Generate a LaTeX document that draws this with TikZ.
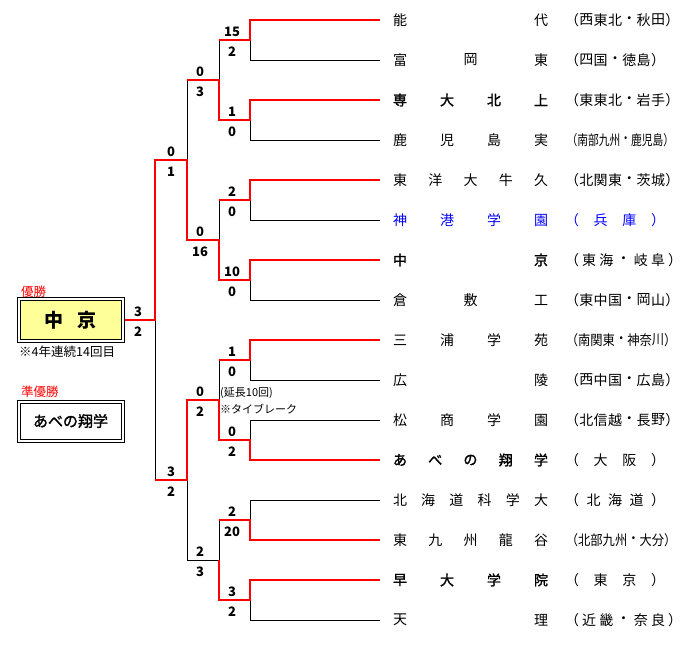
\documentclass[tikz,border=0pt]{standalone}
\usepackage{fontspec}
\setmainfont{Noto Sans CJK JP}
\newfontfamily\cjkb{Noto Sans CJK JP}[FakeBold=1.6]
\begin{document}
\begin{tikzpicture}[x=1pt,y=-1pt,
  blk/.style={black,line width=1pt},
  win/.style={red,line width=2pt,line join=miter},
  sc/.style={font=\fontsize{13}{13}\selectfont\bfseries,inner sep=0pt},
  ch/.style={font=\fontsize{14}{14}\selectfont,inner sep=0pt},
  bd/.style={font=\cjkb\fontsize{14}{14}\selectfont},
  lab/.style={font=\fontsize{12.5}{13}\selectfont,inner sep=0pt,anchor=west}]
\useasboundingbox (0,0) rectangle (694,653);
\newcommand\team[7]{%
  \foreach \c [count=\i] in {#4}{%
    \pgfmathsetmacro\xx{400+(\i-1)*141/(#3-1)}
    \node[ch,#2] (n#1-\i) at (\xx,#1) {\c};}
  \foreach \c [count=\i] in {#6}{%
    \pgfmathsetmacro\xx{572+(\i-1)*86/(#5-1)}
    \pgfmathsetmacro\sx{min(1,86/(#5-1)/14)}
    \node[ch,#7,xscale=\sx] (r#1-\i) at (\xx,#1) {\c};}}
% black skeleton
\foreach \y in {20,60,...,620} \draw[blk] (250,\y) -- (380,\y);
\foreach \a in {20,100,...,580} {
  \draw[blk] (250,\a) -- (250,\a+40);
  \draw[blk] (219,\a+20) -- (250,\a+20);}
\foreach \a in {40,200,360,520} {
  \draw[blk] (219,\a) -- (219,\a+80);
  \draw[blk] (187,\a+40) -- (219,\a+40);}
\foreach \a in {80,400} {
  \draw[blk] (187,\a) -- (187,\a+160);
  \draw[blk] (155,\a+80) -- (187,\a+80);}
\draw[blk] (155,160) -- (155,480);
\draw[blk] (124,320) -- (155,320);
% winners
\draw[win] (380,20)--(250,20)--(250,40)--(219,40);
\draw[win] (380,100)--(250,100)--(250,120)--(219,120)--(219,80)--(187,80);
\draw[win] (380,180)--(250,180)--(250,200)--(219,200);
\draw[win] (380,260)--(250,260)--(250,280)--(219,280)--(219,240)--(187,240)--(187,160)--(155,160)--(155,320)--(124,320);
\draw[win] (380,340)--(250,340)--(250,360)--(219,360);
\draw[win] (380,460)--(250,460)--(250,440)--(219,440)--(219,400)--(187,400)--(187,480)--(155,480);
\draw[win] (380,540)--(250,540)--(250,520)--(219,520);
\draw[win] (380,580)--(250,580)--(250,600)--(219,600)--(219,560);
% scores
\foreach \m/\t/\b/\x [count=\k] in {40/15/2/232,120/1/0/232,200/2/0/232,280/10/0/232,360/1/0/232,440/0/2/232,520/2/20/232,600/3/2/232,
  80/0/3/200,240/0/16/200,400/0/2/200,560/2/3/200,160/0/1/171,480/3/2/171,320/3/2/138}{
  \node[sc] (st\k) at (\x,\m-8) {\t};
  \node[sc] (sb\k) at (\x,\m+12) {\b};}
\node[lab,font=\fontsize{11}{11}\selectfont] (note1) at (220,393) {(延長10回)};
\node[lab,font=\fontsize{11}{11}\selectfont] (note2) at (220,409) {※タイブレーク};
% teams
\team{20}{}{2}{能,代}{7}{（,西,東,北,・,秋,田,）}{}
\team{60}{}{3}{富,岡,東}{7}{（,四,国,・,徳,島,）}{}
\team{100}{bd}{4}{専,大,北,上}{7}{（,東,東,北,・,岩,手,）}{}
\team{140}{}{4}{鹿,児,島,実}{9}{（,南,部,九,州,・,鹿,児,島,）}{}
\team{180}{}{5}{東,洋,大,牛,久}{7}{（,北,関,東,・,茨,城,）}{}
\team{220}{blue}{4}{神,港,学,園}{4}{（,兵,庫,）}{blue}
\team{260}{bd}{2}{中,京}{6}{（,東,海,・,岐,阜,）}{}
\team{300}{}{3}{倉,敷,工}{7}{（,東,中,国,・,岡,山,）}{}
\team{340}{}{4}{三,浦,学,苑}{8}{（,南,関,東,・,神,奈,川,）}{}
\team{380}{}{2}{広,陵}{7}{（,西,中,国,・,広,島,）}{}
\team{420}{}{4}{松,商,学,園}{7}{（,北,信,越,・,長,野,）}{}
\team{460}{bd}{5}{あ,べ,の,翔,学}{4}{（,大,阪,）}{}
\team{500}{}{6}{北,海,道,科,学,大}{5}{（,北,海,道,）}{}
\team{540}{}{5}{東,九,州,龍,谷}{8}{（,北,部,九,州,・,大,分,）}{}
\team{580}{bd}{4}{早,大,学,院}{4}{（,東,京,）}{}
\team{620}{}{2}{天,理}{6}{（,近,畿,・,奈,良,）}{}
% champion
\node[lab,red] (yu) at (21,292) {優勝};
\draw[black] (17,297) rectangle (124,342);
\draw[black,fill={rgb,255:red,255;green,255;blue,153}] (20,300) rectangle (121,339);
\node[font=\fontsize{19}{19}\selectfont\bfseries] (champ) at (70.5,320) {中\hspace{0.7em}京};
\node[lab] (cn) at (19,352) {※4年連続14回目};
\node[lab,red] (jun) at (21,392) {準優勝};
\draw[black] (17,400) rectangle (124,442);
\draw[black] (20,403) rectangle (121,439);
\node[font=\cjkb\fontsize{15}{15}\selectfont] (ru) at (70.5,421) {あべの翔学};
\end{tikzpicture}
\end{document}
